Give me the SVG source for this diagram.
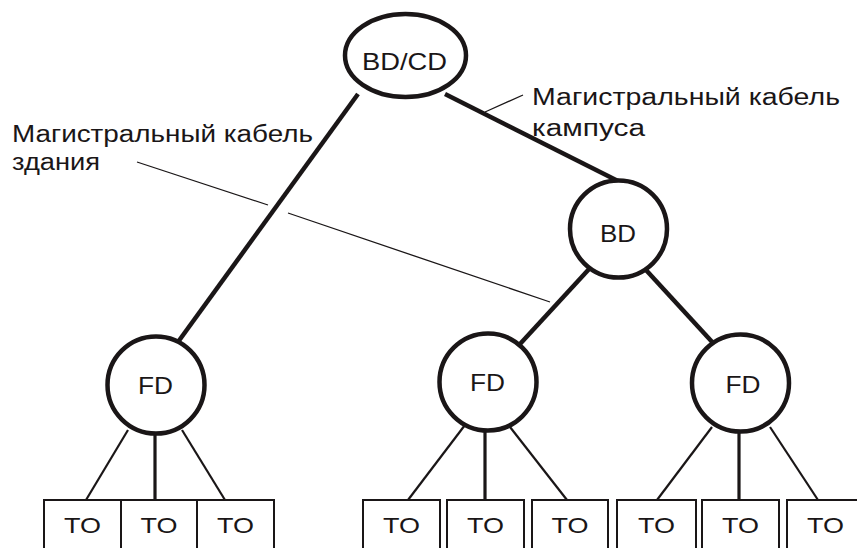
<svg xmlns="http://www.w3.org/2000/svg" width="857" height="548" viewBox="0 0 857 548">
  <style>
    .node { fill: #ffffff; stroke: #1a1617; stroke-width: 4.5; }
    .trunk { stroke: #1a1617; stroke-width: 4.5; fill: none; stroke-linecap: butt; }
    .drop { stroke: #1a1617; stroke-width: 2.2; fill: none; }
    .drop-v { stroke: #1a1617; stroke-width: 3.2; fill: none; }
    .leader { stroke: #1a1617; stroke-width: 1.3; fill: none; }
    .box { fill: #ffffff; stroke: #1a1617; stroke-width: 2; }
    .lbl { font-family: "Liberation Sans", Arial, sans-serif; fill: #1a1617; text-anchor: middle; }
    .note { font-family: "Liberation Sans", Arial, sans-serif; fill: #1a1617; font-size: 23px; }
    .to { font-size: 22px; }
    .nd { font-size: 24px; }
  </style>
  <rect width="857" height="548" fill="#ffffff"/>

  <!-- backbone and horizontal cabling -->
  <g id="connectors">
    <line class="trunk" x1="358" y1="94" x2="178" y2="342"/>
    <line class="trunk" x1="445" y1="94" x2="618" y2="181"/>
    <line class="trunk" x1="590" y1="268" x2="520" y2="344"/>
    <line class="trunk" x1="646" y1="270" x2="714" y2="344"/>

    <line class="drop" x1="128" y1="430" x2="86" y2="500"/>
    <line class="drop-v" x1="155" y1="434" x2="155" y2="500"/>
    <line class="drop" x1="182" y1="430" x2="225" y2="500"/>

    <line class="drop" x1="465" y1="425" x2="408" y2="500"/>
    <line class="drop-v" x1="485" y1="430" x2="485" y2="500"/>
    <line class="drop" x1="510" y1="427" x2="567" y2="500"/>

    <line class="drop" x1="712" y1="427" x2="657" y2="500"/>
    <line class="drop-v" x1="739" y1="430" x2="739" y2="500"/>
    <line class="drop" x1="770" y1="427" x2="818" y2="500"/>

    <!-- callout leaders -->
    <line class="leader" x1="523" y1="95" x2="485" y2="112"/>
    <line class="leader" x1="137" y1="162" x2="268" y2="205"/>
    <line class="leader" x1="288" y1="213" x2="550" y2="302"/>
  </g>

  <g id="bdcd">
    <ellipse class="node" cx="405.5" cy="55.5" rx="60.5" ry="41.5"/>
    <text class="lbl nd" x="404.5" y="70" textLength="85" lengthAdjust="spacingAndGlyphs">BD/CD</text>
  </g>
  <g id="bd">
    <circle class="node" cx="618.5" cy="229" r="48.5"/>
    <text class="lbl nd" x="618" y="242" textLength="36" lengthAdjust="spacingAndGlyphs">BD</text>
  </g>
  <g id="fd1">
    <circle class="node" cx="156" cy="385" r="48.5"/>
    <text class="lbl nd" x="155.5" y="394" textLength="35" lengthAdjust="spacingAndGlyphs">FD</text>
  </g>
  <g id="fd2">
    <circle class="node" cx="488" cy="382" r="48.5"/>
    <text class="lbl nd" x="487.5" y="391" textLength="35" lengthAdjust="spacingAndGlyphs">FD</text>
  </g>
  <g id="fd3">
    <circle class="node" cx="740.5" cy="383" r="48.5"/>
    <text class="lbl nd" x="743" y="393" textLength="35" lengthAdjust="spacingAndGlyphs">FD</text>
  </g>

  <!-- telecommunication outlets -->
  <g id="to1"><rect class="box" x="44" y="500" width="77" height="60"/><text class="lbl to" x="82.5" y="533" textLength="37" lengthAdjust="spacingAndGlyphs">TO</text></g>
  <g id="to2"><rect class="box" x="121" y="500" width="76" height="60"/><text class="lbl to" x="159" y="533" textLength="37" lengthAdjust="spacingAndGlyphs">TO</text></g>
  <g id="to3"><rect class="box" x="197" y="500" width="77" height="60"/><text class="lbl to" x="235.5" y="533" textLength="37" lengthAdjust="spacingAndGlyphs">TO</text></g>

  <g id="to4"><rect class="box" x="363" y="500" width="77" height="60"/><text class="lbl to" x="401.5" y="533" textLength="37" lengthAdjust="spacingAndGlyphs">TO</text></g>
  <g id="to5"><rect class="box" x="447" y="500" width="77" height="60"/><text class="lbl to" x="485.5" y="533" textLength="37" lengthAdjust="spacingAndGlyphs">TO</text></g>
  <g id="to6"><rect class="box" x="532" y="500" width="76" height="60"/><text class="lbl to" x="570" y="533" textLength="37" lengthAdjust="spacingAndGlyphs">TO</text></g>

  <g id="to7"><rect class="box" x="617" y="500" width="79" height="60"/><text class="lbl to" x="656.5" y="533" textLength="37" lengthAdjust="spacingAndGlyphs">TO</text></g>
  <g id="to8"><rect class="box" x="702" y="500" width="77" height="60"/><text class="lbl to" x="740.5" y="533" textLength="37" lengthAdjust="spacingAndGlyphs">TO</text></g>
  <g id="to9"><rect class="box" x="787" y="500" width="78" height="60"/><text class="lbl to" x="825.5" y="533" textLength="37" lengthAdjust="spacingAndGlyphs">TO</text></g>

  <!-- cable labels -->
  <g id="label-building">
    <text class="note" x="12" y="142" textLength="301" lengthAdjust="spacingAndGlyphs">Магистральный кабель</text>
    <text class="note" x="12" y="170" textLength="88" lengthAdjust="spacingAndGlyphs">здания</text>
  </g>
  <g id="label-campus">
    <text class="note" x="532" y="105" textLength="308" lengthAdjust="spacingAndGlyphs">Магистральный кабель</text>
    <text class="note" x="532" y="136" textLength="113" lengthAdjust="spacingAndGlyphs">кампуса</text>
  </g>
</svg>
